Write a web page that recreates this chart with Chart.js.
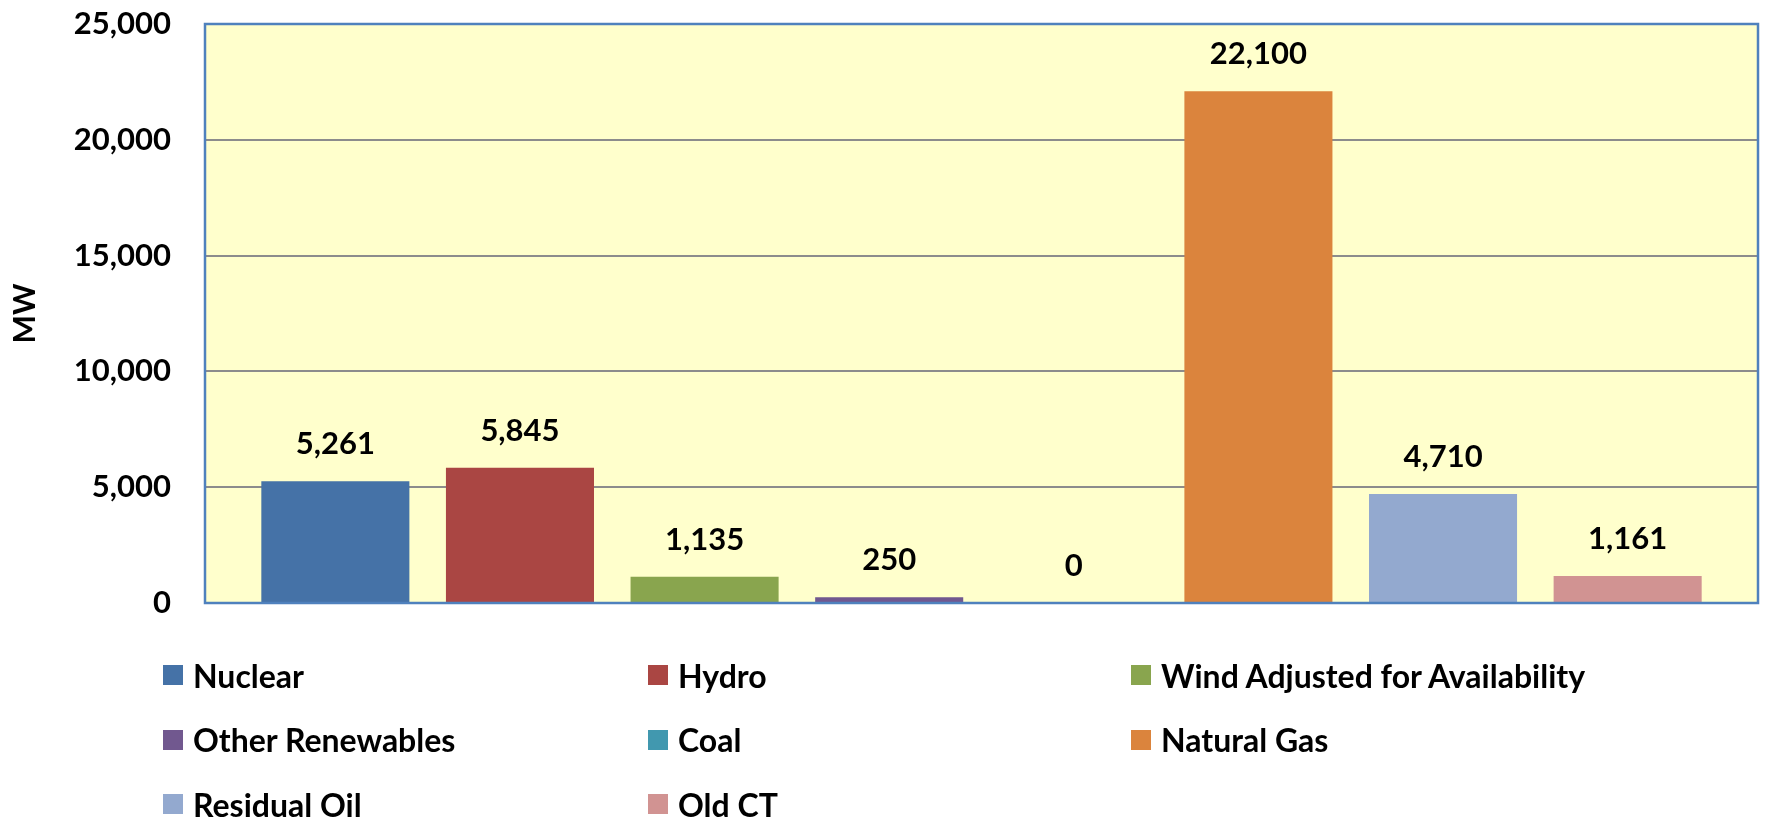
<!DOCTYPE html>
<html>
<head>
<meta charset="utf-8">
<script src="https://cdn.jsdelivr.net/npm/chart.js@4.4.1/dist/chart.umd.min.js"></script>
<style>
  html, body { margin: 0; padding: 0; background: #ffffff; }
  #wrap { position: relative; width: 1765px; height: 820px; overflow: hidden; }
  #c { position: absolute; left: 0; top: 0; }
  #legend {
    position: absolute; left: 163px; top: 643px;
    display: grid; grid-template-columns: 485px 483px auto; grid-auto-rows: 64.5px;
    font-family: Lato, "Open Sans", sans-serif; font-weight: bold; font-size: 32px; color: #000;
  }
  .item { display: flex; align-items: center; white-space: nowrap; }
  .sw { width: 20px; height: 20px; margin-right: 10px; flex: none; }
</style>
</head>
<body>
<div id="wrap">
  <canvas id="c" width="1765" height="820"></canvas>
  <div id="legend"></div>
</div>
<script>
const categories = [''];
const seriesNames = ['Nuclear', 'Hydro', 'Wind Adjusted for Availability', 'Other Renewables', 'Coal', 'Natural Gas', 'Residual Oil', 'Old CT'];
const seriesValues = [5261, 5845, 1135, 250, 0, 22100, 4710, 1161];
const seriesColors = ['#4572A7', '#AA4643', '#89A54E', '#71588F', '#4198AF', '#DB843D', '#93A9CF', '#D19392'];
const yTicks = [0, 5000, 10000, 15000, 20000, 25000];
const yTitle = 'MW';

const FONT = 'Lato, "Open Sans", sans-serif';

const plotDecor = {
  id: 'plotDecor',
  beforeDraw(chart) {
    const a = chart.chartArea, ctx = chart.ctx;
    ctx.save();
    ctx.fillStyle = '#FFFFCC';
    ctx.fillRect(a.left, a.top, a.right - a.left, a.bottom - a.top);
    ctx.restore();
  },
  afterDatasetsDraw(chart) {
    const a = chart.chartArea, ctx = chart.ctx;
    ctx.save();
    ctx.strokeStyle = '#4F81BD';
    ctx.lineWidth = 2.5;
    ctx.strokeRect(a.left, a.top, a.right - a.left, a.bottom - a.top);
    ctx.font = 'bold 31px ' + FONT;
    ctx.fillStyle = '#000';
    ctx.textAlign = 'center';
    ctx.textBaseline = 'middle';
    chart.data.datasets.forEach((ds, i) => {
      const meta = chart.getDatasetMeta(i);
      meta.data.forEach((bar, j) => {
        const v = ds.data[j];
        ctx.fillText(v.toLocaleString('en-US'), bar.x, bar.y - 37);
      });
    });
    ctx.restore();
  }
};

const chart = new Chart(document.getElementById('c'), {
  type: 'bar',
  data: {
    labels: categories,
    datasets: seriesNames.map((n, i) => ({
      label: n,
      data: [seriesValues[i]],
      backgroundColor: seriesColors[i],
      borderWidth: 0,
      categoryPercentage: 0.951,
      barPercentage: 0.802
    }))
  },
  options: {
    responsive: false,
    animation: false,
    layout: { padding: { top: 24, right: 7, bottom: 217, left: 0 } },
    plugins: { legend: { display: false }, tooltip: { enabled: false } },
    scales: {
      x: { display: false },
      y: {
        min: 0, max: 25000,
        afterBuildTicks(scale) { scale.ticks = yTicks.map(v => ({ value: v })); },
        afterFit(scale) { scale.width = 205; scale.paddingTop = 0; scale.paddingBottom = 0; },
        grid: { color: '#8C8C8C', lineWidth: 2, drawTicks: false },
        border: { display: false },
        ticks: {
          padding: 34,
          color: '#000',
          font: { family: FONT, weight: 'bold', size: 31 },
          callback: v => v.toLocaleString('en-US')
        },
        title: {
          display: true, text: yTitle, color: '#000',
          font: { family: FONT, weight: 'bold', size: 30 },
          padding: { top: 7, bottom: 0 }
        }
      }
    }
  },
  plugins: [plotDecor]
});

const lg = document.getElementById('legend');
chart.data.datasets.forEach(ds => {
  const it = document.createElement('div');
  it.className = 'item';
  const sw = document.createElement('span');
  sw.className = 'sw';
  sw.style.background = ds.backgroundColor;
  const tx = document.createElement('span');
  tx.textContent = ds.label;
  it.appendChild(sw); it.appendChild(tx);
  lg.appendChild(it);
});
</script>
</body>
</html>
